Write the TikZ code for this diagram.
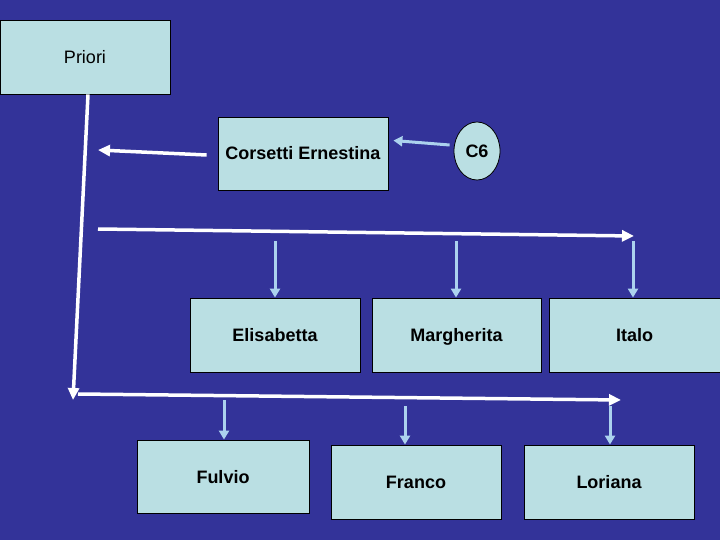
\documentclass[tikz,border=0pt]{standalone}
\usepackage{fontspec}
\setmainfont{Liberation Sans}
\usepackage{xcolor}
\usepackage{tikz}
\usetikzlibrary{arrows.meta,shapes.geometric}
\definecolor{bgblue}{RGB}{51,51,153}
\definecolor{boxfill}{RGB}{186,223,227}
\definecolor{arrblue}{RGB}{172,210,238}

\begin{document}
\begin{tikzpicture}[x=1pt, y=-1pt,
  font=\fontsize{18}{21}\selectfont\bfseries,
  box/.style={draw=black, line width=0.8pt, fill=boxfill, inner sep=0pt,
              text height=13pt, text depth=0pt,
              minimum width=170pt, minimum height=74pt},
  oval/.style={box, ellipse, minimum width=46pt, minimum height=58pt},
  wline/.style={draw=white, line width=3.5pt},
  warr/.style={wline, -{Triangle[length=12pt,width=11pt]}},
  barr/.style={draw=arrblue, line width=3pt, -{Triangle[length=9pt,width=10pt]}}]
\useasboundingbox (0,0) rectangle (720,540);
\fill[bgblue] (0,0) rectangle (720,540);
% people
\node[box, font=\fontsize{18}{21}\selectfont] (priori) at (85,57) {Priori};
\node[box, minimum height=73pt] (corsetti) at (303,153.5) {Corsetti Ernestina};
\node[oval] (c6) at (477,151) {C6};
\node[box] (elis) at (275,335) {Elisabetta};
\node[box, minimum width=169pt] (marg) at (456.5,335) {Margherita};
\node[box, minimum width=171pt] (italo) at (634.5,335) {Italo};
\node[box, minimum width=172pt, minimum height=73pt] (fulvio) at (223,476.5) {Fulvio};
\node[box] (franco) at (416,482) {Franco};
\node[box] (loriana) at (609,482) {Loriana};
% bus lines
\coordinate (down) at (73,400);
\coordinate (ce) at (98,150);
\coordinate (busAl) at (98,229);
\coordinate (busAr) at (634,236);
\coordinate (busBl) at (78,394);
\coordinate (busBr) at (621,400);
\draw[warr] ([xshift=3pt]priori.south) -- (down);
\draw[warr] ([xshift=-11pt,yshift=-1.5pt]corsetti.west) -- (ce);
\draw[barr] ([xshift=-4pt,yshift=6pt]c6.west) -- ([xshift=5pt,yshift=13pt]corsetti.east);
\draw[warr] (busAl) -- (busAr);
\draw[warr] (busBl) -- (busBr);
% children
\foreach \n/\x in {elis/275,marg/456,italo/633}
  \draw[barr] (\x,241) -- (\n.north -| \x,0);
\foreach \n/\x/\y in {fulvio/224/400,franco/405/406,loriana/610/406}
  \draw[barr] (\x,\y) -- (\n.north -| \x,0);
\end{tikzpicture}
\end{document}
